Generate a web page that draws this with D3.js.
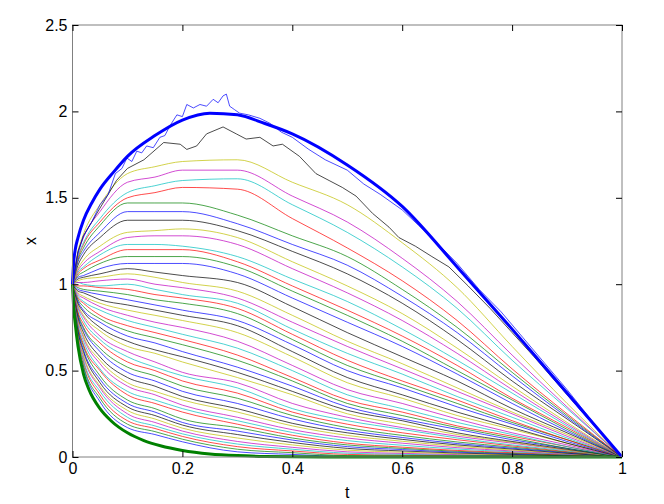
<!DOCTYPE html>
<html>
<head>
<meta charset="utf-8">
<script src="https://cdn.jsdelivr.net/npm/d3@7"></script>
<style>
body { margin: 0; background: #fff; }
text { font-family: "Liberation Sans", Arial, sans-serif; }
</style>
</head>
<body>
<svg width="664" height="504"></svg>
<script>
// sample times shared by most of the paths
var tGrid = [0, 0.01, 0.02, 0.05, 0.1, 0.15, 0.2, 0.3, 0.4, 0.5, 0.6, 0.7, 0.8, 0.9, 1];

// paths 3..50 counted from the top at tGrid
var pathValues = [
  [1, 1.19, 1.29, 1.46, 1.64, 1.68, 1.71, 1.72, 1.59, 1.46, 1.24, 0.98, 0.64, 0.31, 0],
  [1, 1.18, 1.27, 1.42, 1.59, 1.62, 1.66, 1.66, 1.51, 1.36, 1.15, 0.90, 0.59, 0.29, 0],
  [1, 1.16, 1.24, 1.38, 1.53, 1.57, 1.60, 1.61, 1.46, 1.30, 1.10, 0.86, 0.56, 0.28, 0],
  [1, 1.15, 1.23, 1.36, 1.50, 1.53, 1.56, 1.55, 1.38, 1.21, 1.02, 0.79, 0.51, 0.25, 0],
  [1, 1.14, 1.21, 1.34, 1.47, 1.47, 1.47, 1.40, 1.28, 1.16, 0.97, 0.75, 0.49, 0.24, 0],
  [1, 1.13, 1.19, 1.30, 1.42, 1.42, 1.42, 1.35, 1.23, 1.11, 0.93, 0.72, 0.47, 0.23, 0],
  [1, 1.11, 1.17, 1.27, 1.37, 1.37, 1.37, 1.31, 1.19, 1.06, 0.89, 0.68, 0.44, 0.22, 0],
  [1, 1.09, 1.14, 1.22, 1.30, 1.31, 1.32, 1.27, 1.13, 0.99, 0.83, 0.63, 0.41, 0.20, 0],
  [1, 1.08, 1.12, 1.19, 1.27, 1.28, 1.28, 1.23, 1.09, 0.95, 0.79, 0.60, 0.39, 0.19, 0],
  [1, 1.07, 1.10, 1.17, 1.23, 1.23, 1.22, 1.16, 1.03, 0.90, 0.74, 0.56, 0.37, 0.18, 0],
  [1, 1.06, 1.09, 1.14, 1.20, 1.20, 1.20, 1.13, 0.99, 0.85, 0.70, 0.53, 0.34, 0.17, 0],
  [1, 1.05, 1.07, 1.12, 1.16, 1.16, 1.16, 1.10, 0.96, 0.82, 0.67, 0.50, 0.33, 0.16, 0],
  [1, 1.04, 1.05, 1.09, 1.12, 1.12, 1.12, 1.06, 0.92, 0.78, 0.64, 0.48, 0.31, 0.15, 0],
  [1, 1.03, 1.04, 1.06, 1.09, 1.07, 1.05, 1.01, 0.87, 0.72, 0.58, 0.44, 0.28, 0.14, 0],
  [1, 1.02, 1.03, 1.04, 1.06, 1.04, 1.01, 0.96, 0.82, 0.67, 0.54, 0.40, 0.26, 0.13, 0],
  [1, 1.01, 1.01, 1.02, 1.03, 1.00, 0.98, 0.92, 0.78, 0.64, 0.51, 0.38, 0.25, 0.12, 0],
  [1, 1.01, 1.00, 0.99, 1.00, 0.97, 0.94, 0.89, 0.74, 0.60, 0.48, 0.35, 0.23, 0.11, 0],
  [1, 0.99, 0.99, 0.98, 0.97, 0.94, 0.92, 0.86, 0.71, 0.56, 0.44, 0.33, 0.21, 0.10, 0],
  [1, 0.98, 0.97, 0.96, 0.94, 0.91, 0.89, 0.83, 0.68, 0.53, 0.42, 0.31, 0.20, 0.10, 0],
  [1, 0.97, 0.96, 0.94, 0.91, 0.88, 0.85, 0.79, 0.65, 0.50, 0.40, 0.29, 0.19, 0.09, 0],
  [1, 0.96, 0.95, 0.91, 0.88, 0.85, 0.82, 0.76, 0.61, 0.46, 0.36, 0.26, 0.17, 0.08, 0],
  [1, 0.95, 0.93, 0.89, 0.85, 0.82, 0.79, 0.72, 0.58, 0.43, 0.34, 0.24, 0.16, 0.08, 0],
  [1, 0.94, 0.92, 0.87, 0.82, 0.78, 0.75, 0.67, 0.53, 0.39, 0.31, 0.22, 0.14, 0.07, 0],
  [1, 0.93, 0.90, 0.85, 0.79, 0.75, 0.71, 0.63, 0.50, 0.36, 0.28, 0.20, 0.13, 0.06, 0],
  [1, 0.92, 0.89, 0.82, 0.76, 0.72, 0.68, 0.59, 0.46, 0.33, 0.26, 0.18, 0.12, 0.06, 0],
  [1, 0.91, 0.87, 0.80, 0.73, 0.69, 0.65, 0.56, 0.44, 0.31, 0.24, 0.17, 0.11, 0.05, 0],
  [1, 0.90, 0.85, 0.78, 0.70, 0.66, 0.61, 0.52, 0.41, 0.29, 0.22, 0.16, 0.10, 0.05, 0],
  [1, 0.89, 0.84, 0.75, 0.67, 0.62, 0.58, 0.49, 0.38, 0.27, 0.21, 0.14, 0.09, 0.045, 0],
  [1, 0.88, 0.82, 0.73, 0.64, 0.60, 0.55, 0.46, 0.36, 0.25, 0.19, 0.13, 0.085, 0.04, 0],
  [1, 0.87, 0.81, 0.70, 0.61, 0.55, 0.49, 0.43, 0.31, 0.23, 0.17, 0.12, 0.08, 0.04, 0],
  [1, 0.86, 0.79, 0.68, 0.58, 0.52, 0.47, 0.40, 0.28, 0.21, 0.16, 0.11, 0.07, 0.035, 0],
  [1, 0.84, 0.77, 0.66, 0.55, 0.50, 0.44, 0.37, 0.26, 0.19, 0.14, 0.10, 0.064, 0.031, 0],
  [1, 0.83, 0.75, 0.63, 0.52, 0.47, 0.41, 0.34, 0.24, 0.17, 0.125, 0.087, 0.057, 0.028, 0],
  [1, 0.82, 0.74, 0.61, 0.49, 0.44, 0.38, 0.31, 0.22, 0.155, 0.113, 0.078, 0.051, 0.025, 0],
  [1, 0.81, 0.72, 0.58, 0.46, 0.41, 0.35, 0.28, 0.195, 0.14, 0.102, 0.07, 0.046, 0.022, 0],
  [1, 0.80, 0.70, 0.56, 0.43, 0.38, 0.33, 0.26, 0.18, 0.125, 0.091, 0.062, 0.04, 0.02, 0],
  [1, 0.79, 0.69, 0.54, 0.41, 0.36, 0.30, 0.23, 0.158, 0.11, 0.08, 0.054, 0.035, 0.017, 0],
  [1, 0.77, 0.67, 0.51, 0.38, 0.33, 0.28, 0.21, 0.142, 0.095, 0.068, 0.046, 0.03, 0.015, 0],
  [1, 0.76, 0.65, 0.50, 0.36, 0.31, 0.26, 0.19, 0.126, 0.08, 0.057, 0.038, 0.025, 0.012, 0],
  [1, 0.75, 0.64, 0.47, 0.33, 0.28, 0.22, 0.17, 0.11, 0.07, 0.05, 0.033, 0.021, 0.011, 0],
  [1, 0.74, 0.62, 0.45, 0.31, 0.26, 0.20, 0.15, 0.098, 0.06, 0.043, 0.028, 0.018, 0.009, 0],
  [1, 0.73, 0.61, 0.43, 0.29, 0.24, 0.185, 0.13, 0.084, 0.05, 0.035, 0.023, 0.015, 0.007, 0],
  [1, 0.72, 0.59, 0.41, 0.27, 0.22, 0.167, 0.11, 0.07, 0.04, 0.028, 0.018, 0.012, 0.006, 0],
  [1, 0.71, 0.58, 0.40, 0.25, 0.20, 0.15, 0.09, 0.056, 0.03, 0.021, 0.014, 0.009, 0.004, 0],
  [1, 0.70, 0.56, 0.38, 0.23, 0.18, 0.134, 0.075, 0.045, 0.022, 0.0155, 0.01, 0.0065, 0.003, 0],
  [1, 0.69, 0.55, 0.36, 0.21, 0.165, 0.119, 0.06, 0.035, 0.015, 0.0105, 0.0067, 0.0044, 0.002, 0],
  [1, 0.68, 0.53, 0.34, 0.19, 0.147, 0.103, 0.045, 0.025, 0.008, 0.0056, 0.0035, 0.0023, 0.001, 0],
  [1, 0.67, 0.52, 0.32, 0.17, 0.13, 0.088, 0.03, 0.015, 0.003, 0.002, 0.0013, 0.0008, 0.0004, 0]
];

// top path (blue) read more finely, it wiggles over the bound
var topT = [0, 0.01, 0.02, 0.035, 0.05, 0.065, 0.078, 0.09, 0.099, 0.108, 0.117, 0.126, 0.135, 0.147, 0.159, 0.168, 0.178, 0.19, 0.2, 0.208, 0.22, 0.232, 0.244, 0.256, 0.265, 0.274, 0.28, 0.286, 0.295, 0.304, 0.32, 0.341, 0.36, 0.38, 0.4, 0.43, 0.46, 0.5, 0.53, 0.56, 0.6, 0.63, 0.66, 0.7, 0.74, 0.78, 0.82, 0.86, 0.9, 0.94, 0.97, 1];
var topX = [1, 1.18, 1.28, 1.36, 1.46, 1.52, 1.64, 1.67, 1.73, 1.71, 1.77, 1.76, 1.80, 1.79, 1.85, 1.86, 1.92, 1.98, 1.97, 2.04, 2.02, 2.04, 2.03, 2.07, 2.05, 2.09, 2.10, 2.03, 2.01, 1.99, 1.98, 1.96, 1.93, 1.88, 1.85, 1.78, 1.72, 1.66, 1.58, 1.52, 1.43, 1.34, 1.25, 1.12, 0.97, 0.84, 0.69, 0.54, 0.39, 0.23, 0.11, 0];

// second path (black)
var secondT = [0, 0.01, 0.02, 0.05, 0.08, 0.1, 0.13, 0.166, 0.196, 0.208, 0.226, 0.244, 0.274, 0.298, 0.316, 0.341, 0.365, 0.382, 0.413, 0.443, 0.467, 0.491, 0.516, 0.546, 0.576, 0.594, 0.624, 0.654, 0.685, 0.72, 0.76, 0.8, 0.84, 0.9, 0.95, 1];
var secondX = [1, 1.19, 1.28, 1.44, 1.60, 1.67, 1.72, 1.82, 1.81, 1.78, 1.80, 1.87, 1.91, 1.87, 1.84, 1.85, 1.80, 1.81, 1.74, 1.64, 1.60, 1.56, 1.51, 1.41, 1.33, 1.27, 1.22, 1.16, 1.10, 0.99, 0.86, 0.72, 0.58, 0.36, 0.18, 0];

// thick bounds
var upperT = [0, 0.002, 0.005, 0.01, 0.02, 0.035, 0.05, 0.075, 0.1, 0.15, 0.2, 0.25, 0.3, 0.35, 0.4, 0.5, 0.6, 0.7, 0.8, 0.9, 1];
var upperX = [1, 1.12, 1.2, 1.27, 1.37, 1.47, 1.55, 1.65, 1.74, 1.86, 1.95, 1.99, 1.98, 1.93, 1.87, 1.69, 1.45, 1.10, 0.74, 0.37, 0];
var lowerT = [0, 0.002, 0.005, 0.01, 0.02, 0.03, 0.05, 0.07, 0.1, 0.13, 0.16, 0.2, 0.25, 0.3, 0.35, 0.4, 0.5, 1];
var lowerX = [1, 0.87, 0.77, 0.64, 0.48, 0.39, 0.28, 0.21, 0.14, 0.095, 0.065, 0.038, 0.018, 0.008, 0.003, 0.001, 0, 0];

var xTicks = [0, 0.2, 0.4, 0.6, 0.8, 1];
var yTicks = [0, 0.5, 1, 1.5, 2, 2.5];

// colour order counted from the top path
var colors = ["#0000ff", "#000000", "#bfbf00", "#bf00bf", "#00bfbf", "#ff0000", "#008000"];

var svg = d3.select("svg");
var mLeft = 72.5, mRight = 622, mTop = 25, mBottom = 457;

var x = d3.scaleLinear().domain([0, 1]).range([mLeft, mRight]);
var y = d3.scaleLinear().domain([0, 2.5]).range([mBottom, mTop]);

var line = d3.line()
    .x(function(d) { return x(d[0]); })
    .y(function(d) { return y(d[1]); });

var smoothLine = d3.line()
    .curve(d3.curveMonotoneX)
    .x(function(d) { return x(d[0]); })
    .y(function(d) { return y(d[1]); });

function zipPath(ts, xs) {
  return ts.map(function(t, i) { return [t, xs[i]]; });
}

// build every path, index 0 = top; the two finely read ones stay straight-segmented
var paths = [line(zipPath(topT, topX)), line(zipPath(secondT, secondX))];
pathValues.forEach(function(row) { paths.push(smoothLine(zipPath(tGrid, row))); });

// plotted bottom first so the upper ones sit on top
var order = d3.range(paths.length).reverse();
svg.append("g")
  .selectAll("path")
  .data(order)
  .enter().append("path")
    .attr("d", function(i) { return paths[i]; })
    .attr("fill", "none")
    .attr("stroke", function(i) { return colors[i % 7]; })
    .attr("stroke-opacity", 0.7)
    .attr("stroke-width", 1);

svg.append("path")
    .attr("d", smoothLine(zipPath(lowerT, lowerX)))
    .attr("fill", "none")
    .attr("stroke", "#008000")
    .attr("stroke-width", 3);

svg.append("path")
    .attr("d", smoothLine(zipPath(upperT, upperX)))
    .attr("fill", "none")
    .attr("stroke", "#0000ff")
    .attr("stroke-width", 3);

// box
svg.append("rect")
    .attr("x", mLeft).attr("y", mTop)
    .attr("width", mRight - mLeft).attr("height", mBottom - mTop)
    .attr("fill", "none")
    .attr("stroke", "#808080")
    .attr("stroke-width", 1);

function styleAxis(g) {
  g.select(".domain").remove();
  g.selectAll(".tick line").attr("stroke", "#000");
  g.selectAll(".tick text").attr("fill", "#000").style("font-size", "16px");
}

svg.append("g")
    .attr("transform", "translate(0," + mBottom + ")")
    .call(d3.axisBottom(x).tickValues(xTicks).tickSize(-6).tickPadding(6).tickFormat(String))
    .call(styleAxis);
svg.append("g")
    .attr("transform", "translate(0," + mTop + ")")
    .call(d3.axisTop(x).tickValues(xTicks).tickSize(-6).tickFormat(""))
    .call(styleAxis);
svg.append("g")
    .attr("transform", "translate(" + mLeft + ",0)")
    .call(d3.axisLeft(y).tickValues(yTicks).tickSize(-6).tickPadding(5).tickFormat(String))
    .call(styleAxis);
svg.append("g")
    .attr("transform", "translate(" + mRight + ",0)")
    .call(d3.axisRight(y).tickValues(yTicks).tickSize(-6).tickFormat(""))
    .call(styleAxis);

svg.append("text")
    .attr("x", (mLeft + mRight) / 2)
    .attr("y", 498)
    .attr("text-anchor", "middle")
    .style("font-size", "16px")
    .text("t");

svg.append("text")
    .attr("transform", "translate(36," + ((mTop + mBottom) / 2) + ") rotate(-90)")
    .attr("text-anchor", "middle")
    .style("font-size", "16px")
    .text("x");
</script>
</body>
</html>
